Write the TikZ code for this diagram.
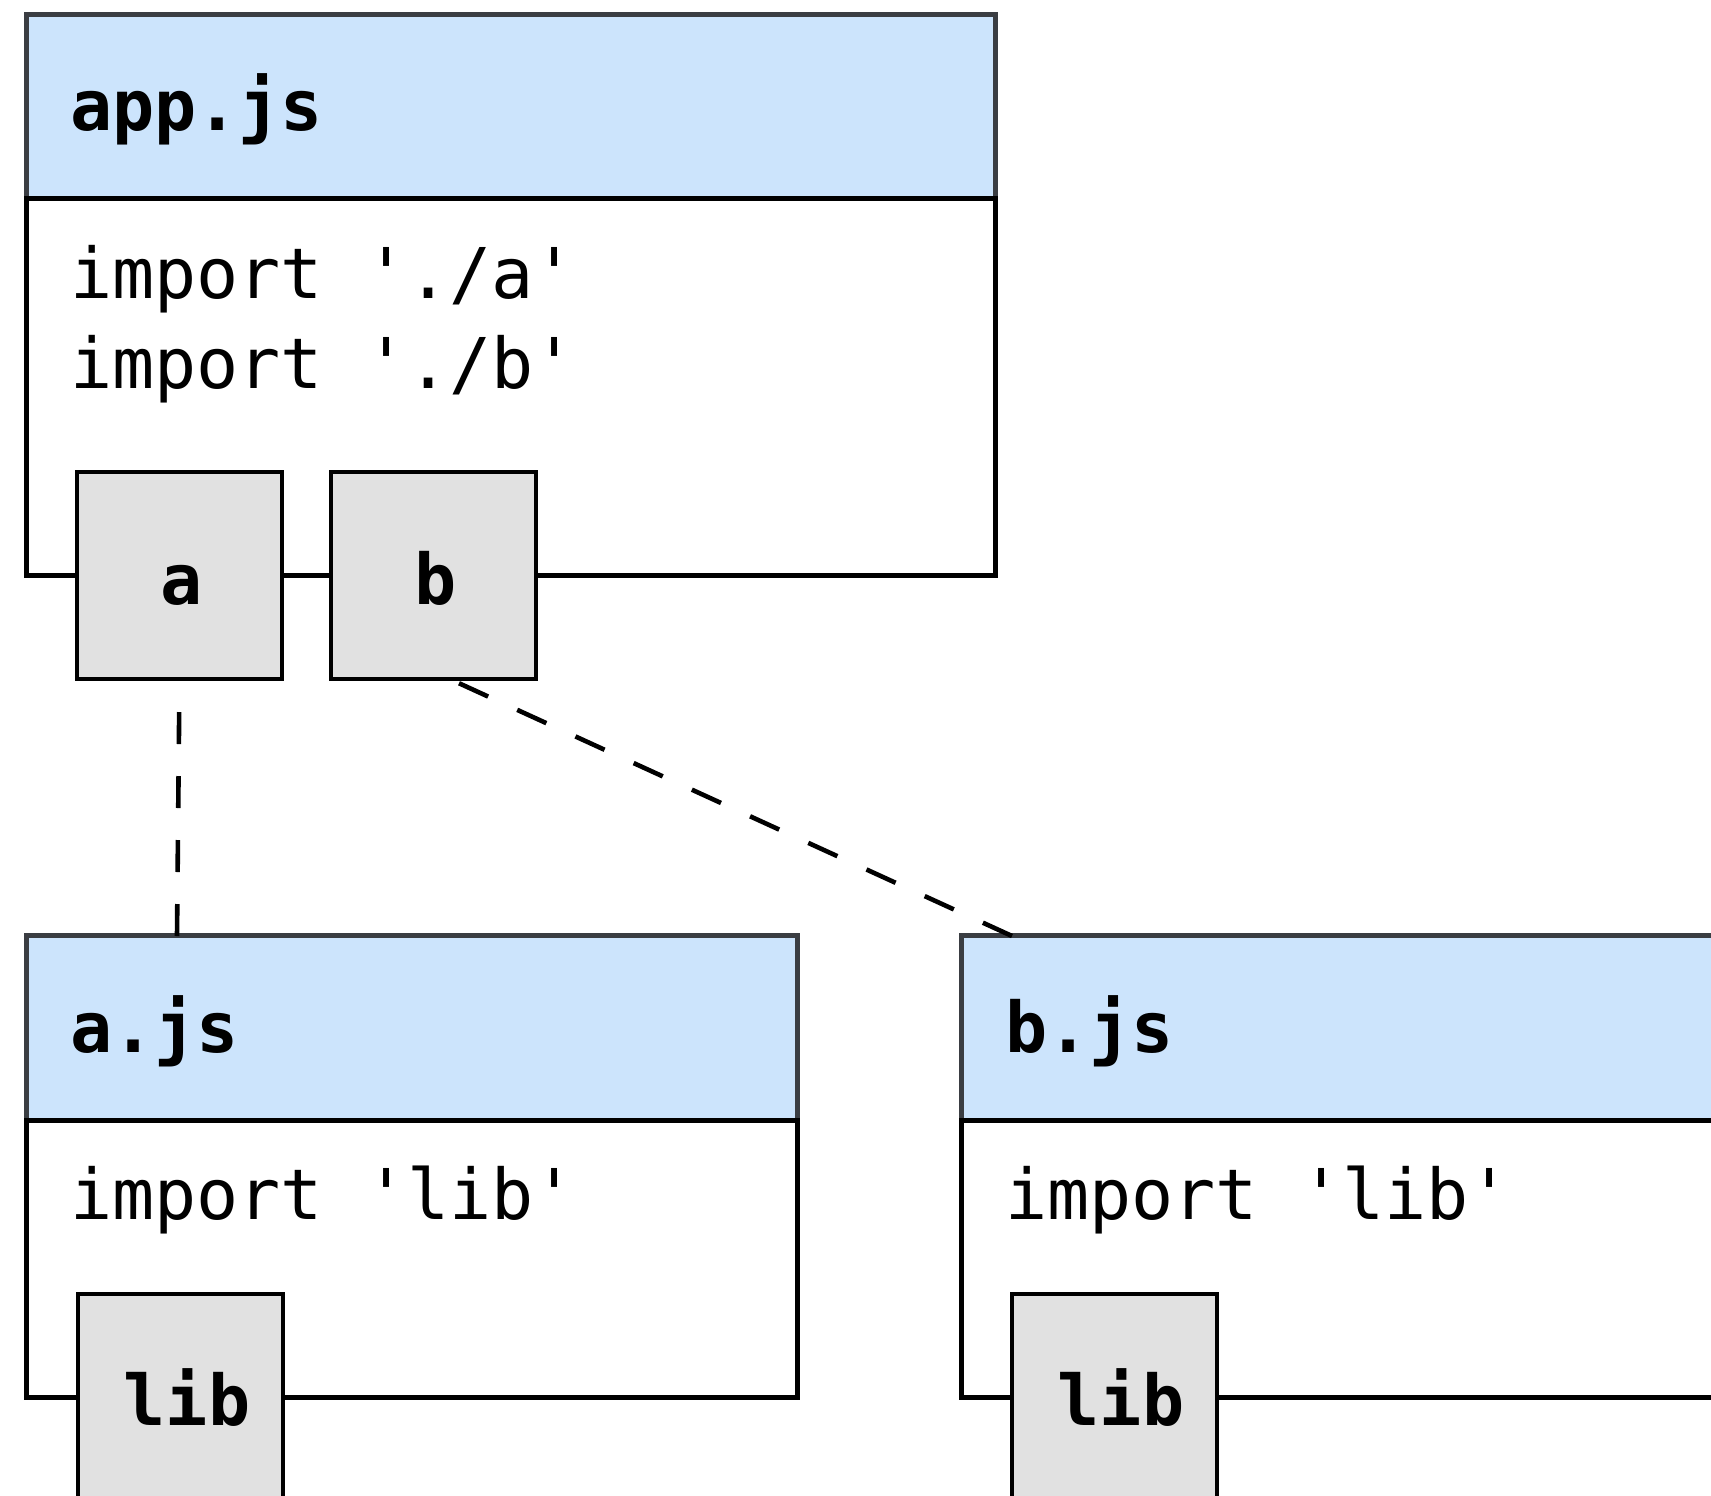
\documentclass[tikz,border=0pt]{standalone}
\usepackage{fontspec}
\setmonofont{DejaVu Sans Mono}
\usetikzlibrary{calc}
\definecolor{headfill}{HTML}{CCE4FC}
\definecolor{headline}{HTML}{3A3D42}
\definecolor{chipfill}{HTML}{E1E1E1}
\pgfdeclarelayer{back}
\pgfdeclarelayer{mid}
\pgfsetlayers{back,mid,main}
\tikzset{
  fhead/.style={draw=headline, fill=headfill, line width=5pt, anchor=north west, inner sep=0pt, outer sep=0pt},
  fbody/.style={draw=black, fill=white, line width=5pt, anchor=north west, inner sep=0pt, outer sep=0pt},
  chipbox/.style={draw=black, fill=chipfill, line width=4.5pt, anchor=north west, inner sep=0pt, outer sep=0pt, minimum width=205pt, minimum height=207pt},
  ftitle/.style={anchor=base west, inner sep=0pt, font=\fontsize{70}{84}\selectfont\ttfamily\bfseries},
  fcode/.style={anchor=base west, inner sep=0pt, font=\fontsize{70}{84}\selectfont\ttfamily},
  chiptext/.style={anchor=base, inner sep=0pt, font=\fontsize{70}{84}\selectfont\ttfamily\bfseries},
  depline/.style={draw=black, line width=4.6pt, dash pattern=on 32pt off 32pt},
}
\begin{document}
\begin{tikzpicture}[x=1pt, y=-1pt]
\useasboundingbox (0,0) rectangle (1711,1496);

% ---- chips (front layer)
\node[chipbox] (a) at (77,472) {};
\node[chipbox] (b) at (331,472) {};
\node[chipbox] (liba) at (78,1294) {};
\node[chipbox] (libb) at (1012,1294) {};
\node[chiptext] (alabel) at (182,604) {a};
\node[chiptext] (blabel) at (436,604) {b};
\node[chiptext] (libalabel) at (187,1425) {lib};
\node[chiptext] (libblabel) at (1121,1425) {lib};

% ---- file boxes (back layer)
\begin{pgfonlayer}{back}
\node[fhead, minimum width=969pt, minimum height=183pt] (apphead) at (26,15) {};
\node[fbody, minimum width=969pt, minimum height=377pt] (appbody) at (26,198) {};
\node[fhead, minimum width=771pt, minimum height=185pt] (ajshead) at (26,935) {};
\node[fbody, minimum width=771pt, minimum height=277pt] (ajsbody) at (26,1120) {};
\node[fhead, minimum width=820pt, minimum height=185pt] (bjshead) at (961,935) {};
\node[fbody, minimum width=820pt, minimum height=277pt] (bjsbody) at (961,1120) {};
\end{pgfonlayer}

% ---- texts
\node[ftitle] (apptitle) at (70,130) {app.js};
\node[fcode] (appimpa) at (70,298) {import './a'};
\node[fcode] (appimpb) at (70,388) {import './b'};
\node[ftitle] (ajstitle) at (70,1052) {a.js};
\node[fcode] (ajsimp) at (70,1219) {import 'lib'};
\node[ftitle] (bjstitle) at (1005,1052) {b.js};
\node[fcode] (bjsimp) at (1005,1219) {import 'lib'};

% ---- dependency lines (middle layer)
\begin{pgfonlayer}{mid}
\coordinate (atop) at ($(ajshead.north west)+(151,1)$);
\coordinate (btop) at ($(bjshead.north west)+(51,1)$);
\draw[depline] (atop) -- (a.south);
\draw[depline] (btop) -- ($(b.south)+(25,4)$);
\end{pgfonlayer}
\end{tikzpicture}
\end{document}
